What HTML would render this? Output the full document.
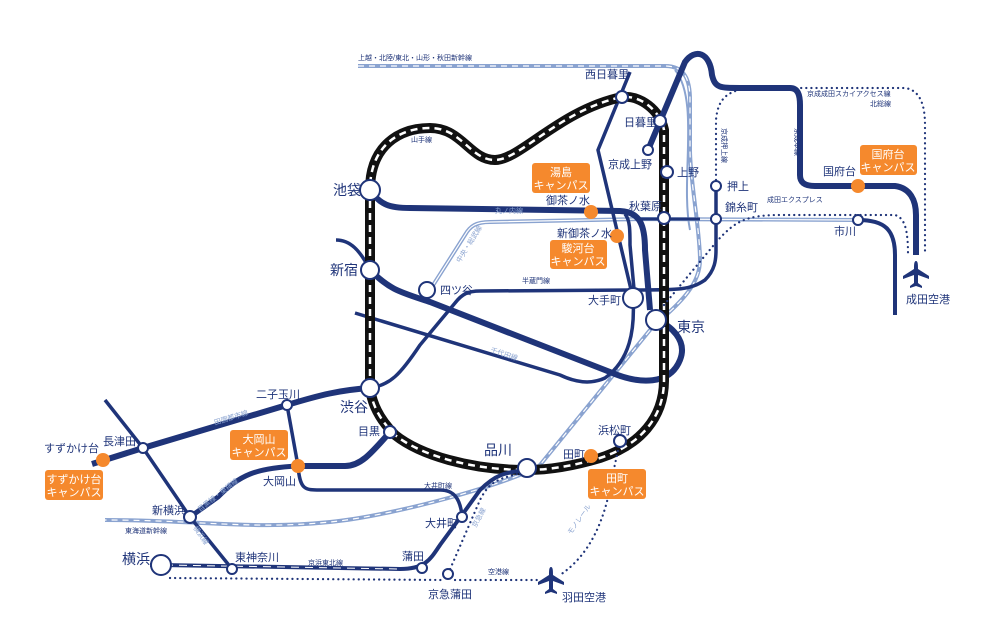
<!DOCTYPE html>
<html><head><meta charset="utf-8"><style>
html,body{margin:0;padding:0;background:#fff;}
svg{display:block;font-family:"Liberation Sans","Noto Sans CJK JP",sans-serif;}
.n{fill:none;stroke:#1f3479;}
.lb{fill:none;stroke:#8aa3d0;}
.st{fill:#fff;stroke:#1f3479;stroke-width:2;}
.t{fill:#1f3479;font-size:11px;}
.tb{fill:#1f3479;font-size:14px;}
.ts{fill:#1f3479;font-size:7px;}
.tl{fill:#8aa3d0;font-size:7px;}
.cb{fill:#f5892d;}
.ct{fill:#fff;font-size:11px;text-anchor:middle;}
.dot{fill:none;stroke:#1f3479;stroke-width:2.2;stroke-dasharray:0.1 5;stroke-linecap:round;}
</style></head><body>
<svg width="987" height="624" viewBox="0 0 987 624">
<defs>
<path id="plane" d="M0,-14 C2,-14 2,-10 2,-6 L13,1 L13,4 L2,0 L2,8 L6,11 L6,13 L0,11 L-6,13 L-6,11 L-2,8 L-2,0 L-13,4 L-13,1 L-2,-6 C-2,-10 -2,-14 0,-14 Z" fill="#1f3479"/>
</defs>
<!-- shinkansen light blue -->
<path class="lb" d="M358,66 L665,66 C685,66 690,80 690,100 L690,150 C690,180 700,230 700,260 C700,290 670,310 650,330 L540,465 C520,480 400,515 330,522 C250,530 200,520 105,520" stroke-width="4"/>
<path d="M358,66 L665,66 C685,66 690,80 690,100 L690,150 C690,180 700,230 700,260 C700,290 670,310 650,330 L540,465 C520,480 400,515 330,522 C250,530 200,520 105,520" fill="none" stroke="#fff" stroke-width="1.2" stroke-dasharray="6 5"/>
<path class="lb" d="M675,70 C700,100 680,180 690,230" stroke-width="2"/>
<!-- sobu light blue double -->
<path class="lb" d="M430,290 L465,235 C470,226 476,222 490,222 L640,219 L858,220" stroke-width="4"/>
<path d="M430,290 L465,235 C470,226 476,222 490,222 L640,219 L858,220" fill="none" stroke="#fff" stroke-width="1.2"/>
<!-- navy lines -->
<path class="n" d="M858,220 C885,220 895,230 895,255 L895,315" stroke-width="4"/>
<path class="n" d="M640,219 L700,219" stroke-width="3"/>
<!-- marunouchi thick -->
<path class="n" d="M370,190 C380,205 390,208 410,208 L620,211 C640,212 645,225 645,250 L650,310" stroke-width="6"/>
<path class="n" d="M370,270 C390,290 400,292 430,302 L610,372 C640,385 670,385 680,360 C688,340 670,325 656,320" stroke-width="6"/>
<path class="n" d="M625,214 C630,220 630,230 630,245 L635,300" stroke-width="3.5"/>
<!-- chiyoda -->
<path class="n" d="M630,72 L598,150 L633,298 C635,330 630,360 605,378 C590,385 575,382 560,375 L355,313" stroke-width="3.5"/>
<!-- hanzomon -->
<path class="n" d="M370,388 C390,385 400,375 420,345 L455,303 C462,294 468,291 480,291 L633,290 C680,290 690,290 705,280 C715,270 716,260 716,250 L716,186" stroke-width="3.5"/>
<path class="n" d="M336,240 C350,240 360,250 370,270" stroke-width="3.5"/>
<!-- yamanote -->
<path d="M370,388 L370,190 C370,145 400,128 430,128 C462,128 470,160 495,160 C520,160 560,110 622,97 C640,95 660,110 664,130 L664,380 C664,418 640,445 600,458 C570,467 545,470 527,470 C470,470 420,455 395,435 C380,420 372,405 370,388 Z" fill="none" stroke="#111" stroke-width="10"/>
<path d="M370,388 L370,190 C370,145 400,128 430,128 C462,128 470,160 495,160 C520,160 560,110 622,97 C640,95 660,110 664,130 L664,380 C664,418 640,445 600,458 C570,467 545,470 527,470 C470,470 420,455 395,435 C380,420 372,405 370,388 Z" fill="none" stroke="#fff" stroke-width="2.5" stroke-dasharray="7 5"/>
<!-- keisei -->
<path class="n" d="M648,150 L685,62 C695,48 710,52 712,75 C715,88 720,88 740,88 L790,88 C798,88 800,95 800,105 L800,175 C800,183 805,186 815,186 L895,186 C910,188 916,200 916,215 L916,255" stroke-width="6"/>
<path class="dot" d="M716,185 L716,120 C718,96 730,88 760,88 L905,88 C920,90 925,105 925,125 L925,255"/>
<path class="dot" d="M664,305 L718,240 C735,222 745,215 780,215 L895,215 C905,218 908,230 908,255"/>
<!-- den-en-toshi -->
<path class="n" d="M92,464 L143,448 L287,405 C320,395 340,390 370,388" stroke-width="6"/>
<path class="n" d="M287,405 L298,466 C300,490 305,490 320,490 L440,490 C455,490 460,500 462,515" stroke-width="3.5"/>
<path class="n" d="M298,466 L345,466 C360,466 370,455 390,432" stroke-width="6"/>
<path class="n" d="M190,517 L218,497 C240,475 255,468 298,466" stroke-width="5"/>
<path class="n" d="M105,400 L143,448 L190,517 L232,569" stroke-width="3.5"/>
<!-- keihin tohoku -->
<path class="n" d="M161,565 L400,569 C425,569 430,560 440,545 L462,515 L480,490 C495,475 505,472 527,470" stroke-width="4"/>
<path d="M165,565 L400,569" fill="none" stroke="#fff" stroke-width="1" stroke-dasharray="8 6"/>
<path class="n" d="M150,565 L161,565" stroke-width="4"/>
<!-- dotted keikyu/airport -->
<path class="dot" d="M527,472 C500,478 490,480 480,500 L448,574"/>
<path class="dot" d="M170,578 L445,580"/>
<path class="dot" d="M455,580 L540,580"/>
<path class="dot" d="M620,441 L612,478 C605,520 590,555 560,575"/>
<!-- stations -->
<g>
<circle class="st" cx="370" cy="190" r="10"/>
<circle class="st" cx="370" cy="270" r="9"/>
<circle class="st" cx="370" cy="388" r="9"/>
<circle class="st" cx="527" cy="468" r="9"/>
<circle class="st" cx="656" cy="320" r="10"/>
<circle class="st" cx="633" cy="298" r="10"/>
<circle class="st" cx="161" cy="565" r="10"/>
<circle class="st" cx="427" cy="290" r="8"/>
<circle class="st" cx="390" cy="432" r="6"/>
<circle class="st" cx="620" cy="441" r="6"/>
<circle class="st" cx="667" cy="172" r="6"/>
<circle class="st" cx="664" cy="218" r="6"/>
<circle class="st" cx="660" cy="121" r="6"/>
<circle class="st" cx="622" cy="97" r="6"/>
<circle class="st" cx="648" cy="150" r="5"/>
<circle class="st" cx="716" cy="186" r="5"/>
<circle class="st" cx="716" cy="219" r="5"/>
<circle class="st" cx="858" cy="220" r="5"/>
<circle class="st" cx="287" cy="405" r="5"/>
<circle class="st" cx="143" cy="448" r="5"/>
<circle class="st" cx="190" cy="517" r="6"/>
<circle class="st" cx="232" cy="569" r="5"/>
<circle class="st" cx="422" cy="568" r="5"/>
<circle class="st" cx="462" cy="517" r="5"/>
<circle class="st" cx="448" cy="574" r="5"/>
</g>
<g fill="#f5892d">
<circle cx="591" cy="212" r="7"/><circle cx="617" cy="236" r="7"/>
<circle cx="858" cy="186" r="7"/><circle cx="591" cy="456" r="7"/>
<circle cx="298" cy="466" r="7"/><circle cx="103" cy="460" r="7"/>
</g>
<rect class="cb" x="532" y="163" width="58" height="30" rx="3"/><text class="ct" x="561" y="176">湯島</text><text class="ct" x="561" y="189">キャンパス</text>
<rect class="cb" x="550" y="240" width="57" height="29" rx="3"/><text class="ct" x="578" y="252">駿河台</text><text class="ct" x="578" y="265">キャンパス</text>
<rect class="cb" x="860" y="145" width="57" height="30" rx="3"/><text class="ct" x="888" y="158">国府台</text><text class="ct" x="888" y="171">キャンパス</text>
<rect class="cb" x="588" y="469" width="58" height="30" rx="3"/><text class="ct" x="617" y="482">田町</text><text class="ct" x="617" y="495">キャンパス</text>
<rect class="cb" x="230" y="430" width="58" height="30" rx="3"/><text class="ct" x="259" y="443">大岡山</text><text class="ct" x="259" y="456">キャンパス</text>
<rect class="cb" x="45" y="470" width="58" height="30" rx="3"/><text class="ct" x="74" y="483">すずかけ台</text><text class="ct" x="74" y="496">キャンパス</text>
<use href="#plane" x="916" y="275"/>
<use href="#plane" x="551" y="581"/>
<text class="tb" x="333" y="195">池袋</text>
<text class="tb" x="330" y="275">新宿</text>
<text class="tb" x="340" y="412">渋谷</text>
<text class="tb" x="484" y="455">品川</text>
<text class="tb" x="677" y="332">東京</text>
<text class="tb" x="122" y="564">横浜</text>
<text class="t" x="588" y="304">大手町</text>
<text class="t" x="440" y="294">四ツ谷</text>
<text class="t" x="358" y="435">目黒</text>
<text class="t" x="585" y="78">西日暮里</text>
<text class="t" x="624" y="126">日暮里</text>
<text class="t" x="608" y="168">京成上野</text>
<text class="t" x="677" y="176">上野</text>
<text class="t" x="629" y="210">秋葉原</text>
<text class="t" x="546" y="204">御茶ノ水</text>
<text class="t" x="557" y="237">新御茶ノ水</text>
<text class="t" x="727" y="190">押上</text>
<text class="t" x="725" y="211">錦糸町</text>
<text class="t" x="834" y="235">市川</text>
<text class="t" x="823" y="175">国府台</text>
<text class="t" x="906" y="303">成田空港</text>
<text class="t" x="598" y="434">浜松町</text>
<text class="t" x="563" y="458">田町</text>
<text class="t" x="256" y="398">二子玉川</text>
<text class="t" x="263" y="485">大岡山</text>
<text class="t" x="103" y="445">長津田</text>
<text class="t" x="44" y="452">すずかけ台</text>
<text class="t" x="152" y="514">新横浜</text>
<text class="t" x="235" y="561">東神奈川</text>
<text class="t" x="402" y="560">蒲田</text>
<text class="t" x="425" y="527">大井町</text>
<text class="t" x="428" y="598">京急蒲田</text>
<text class="t" x="562" y="601">羽田空港</text>
<text class="ts" x="358" y="60">上越・北陸/東北・山形・秋田新幹線</text>
<text class="ts" x="411" y="142">山手線</text>
<text class="ts" x="522" y="283">半蔵門線</text>
<text class="ts" x="424" y="488">大井町線</text>
<text class="ts" x="308" y="565">京浜東北線</text>
<text class="ts" x="125" y="533">東海道新幹線</text>
<text class="ts" x="488" y="574">空港線</text>
<text class="ts" x="767" y="202">成田エクスプレス</text>
<text class="ts" x="807" y="96">京成成田スカイアクセス線</text>
<text class="ts" x="870" y="106">北総線</text>
<text class="tl" x="495" y="213">丸ノ内線</text>
<text class="tl" x="490" y="352" transform="rotate(18 490 352)">千代田線</text>
<text class="tl" x="215" y="425" transform="rotate(-17 215 425)">田園都市線</text>
<text class="tl" x="200" y="512" transform="rotate(-38 200 512)">目黒線・東横線</text>
<text class="tl" x="193" y="528" transform="rotate(55 193 528)">横浜線</text>
<text class="tl" x="460" y="263" transform="rotate(-58 460 263)">中央・総武線</text>
<text class="tl" x="476" y="528" transform="rotate(-62 476 528)">京急線</text>
<text class="tl" x="571" y="535" transform="rotate(-55 571 535)">モノレール</text>
<text class="ts" x="722" y="128" transform="rotate(90 722 128)">京成押上線</text>
<text class="ts" x="795" y="128" transform="rotate(90 795 128)">京成本線</text>
</svg>
</body></html>
